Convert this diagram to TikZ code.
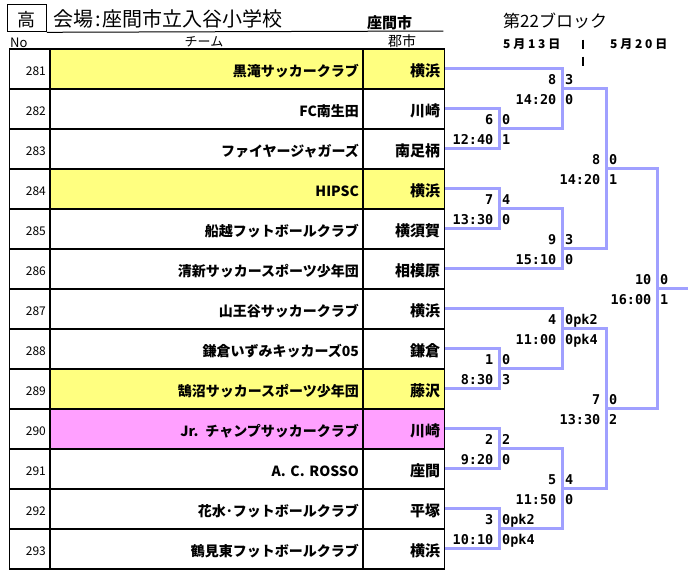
\documentclass[tikz,border=0pt]{standalone}
\usepackage{fontspec}
\setmainfont{Noto Sans CJK JP}
\newfontfamily\monofnt{DejaVu Sans Mono}
\definecolor{brcol}{RGB}{160,160,255}
\definecolor{yel}{RGB}{255,255,128}
\definecolor{pnk}{RGB}{255,160,255}
\newcommand{\gp}{\hspace{2.8pt}}
\begin{document}
\begin{tikzpicture}[x=1pt,y=-1pt,
  cell/.style={draw=black, line width=1.2pt, rectangle, minimum height=40pt,
    inner xsep=4pt, inner ysep=0pt, anchor=north west, align=right},
  nocell/.style={cell, text width=32.3pt, font=\fontsize{12}{12}\selectfont,
    text height=15.1pt, text depth=2pt},
  teamcell/.style={cell, text width=305pt, font=\bfseries\fontsize{14}{14}\selectfont,
    text height=16.6pt, text depth=2pt},
  citycell/.style={cell, text width=73.3pt, font=\bfseries\fontsize{15}{15}\selectfont,
    text height=17.4pt, text depth=2pt},
  bline/.style={draw=brcol, line width=3pt},
  lab/.style={inner sep=0pt, font=\monofnt\bfseries\fontsize{13.5}{13.5}\selectfont},
  hdr/.style={inner sep=0pt, anchor=base west}]
\useasboundingbox (0,0) rectangle (698,573);
\fill[white] (0,0) rectangle (698,573);

% header
\node[draw=black, line width=1.3pt, minimum width=39pt, minimum height=27pt,
  inner xsep=5pt, inner ysep=0pt, text width=18pt, align=right, anchor=north west,
  font=\fontsize{18}{18}\selectfont, text height=16pt, text depth=0pt] (kou) at (6.5,4) {高};
\coordinate (ulend) at (443.3,31);
\draw[line width=1pt] (kou.south east) -- (ulend);
\node[hdr, font=\fontsize{20}{20}\selectfont] (title) at (53,26.6) {会場\hspace{2pt}:\hspace{2pt}座間市立入谷小学校};
\node[hdr, font=\bfseries\fontsize{15}{15}\selectfont] (zama) at (367,28.2) {座間市};
\node[hdr, font=\fontsize{13}{13}\selectfont] (hno) at (10,47.3) {No};
\node[inner sep=0pt, anchor=base, font=\fontsize{13}{13}\selectfont] (hteam) at (204,46) {チーム};
\node[inner sep=0pt, anchor=base, font=\fontsize{14}{14}\selectfont] (hcity) at (402,46.5) {郡市};
\node[hdr, font=\fontsize{17}{17}\selectfont] (block) at (503,27) {第22ブロック};
\node[hdr, font=\bfseries\fontsize{12}{12}\selectfont] (d1) at (503,48.6) {5\gp 月\gp 1\gp 3\gp 日};
\node[hdr, font=\bfseries\fontsize{12}{12}\selectfont] (d2) at (610,48.6) {5\gp 月\gp 2\gp 0\gp 日};
\draw[line width=2.6pt] (583,39.5) -- (583,48.5);
\draw[line width=2.6pt] (583,56.5) -- (583,66);

% table
\foreach \i/\no/\team/\city/\fc in {
  1/281/黒滝サッカークラブ/横浜/yel,
  2/282/FC南生田/川崎/white,
  3/283/ファイヤージャガーズ/南足柄/white,
  4/284/HIPSC/横浜/yel,
  5/285/船越フットボールクラブ/横須賀/white,
  6/286/清新サッカースポーツ少年団/相模原/white,
  7/287/山王谷サッカークラブ/横浜/white,
  8/288/鎌倉いずみキッカーズ05/鎌倉/white,
  9/289/鵠沼サッカースポーツ少年団/藤沢/yel,
  10/290/Jr. チャンプサッカークラブ/川崎/pnk,
  11/291/A. C. ROSSO/座間/white,
  12/292/花水･フットボールクラブ/平塚/white,
  13/293/鶴見東フットボールクラブ/横浜/white}{
  \node[nocell, fill=white] (no\i) at (9,{48.3+40*(\i-1)}) {\no};
  \node[teamcell, fill=\fc] (team\i) at (49.3,{48.3+40*(\i-1)}) {\team};
  \node[citycell, fill=\fc] (city\i) at (362.3,{48.3+40*(\i-1)}) {\city};
}

% bracket points
\coordinate (m6) at (499,128.5);
\coordinate (m7) at (499,208.5);
\coordinate (m1) at (499,368.5);
\coordinate (m2) at (499,448.5);
\coordinate (m3) at (499,528.5);
\coordinate (ra) at (562,88.5);
\coordinate (rb) at (562,248.5);
\coordinate (rc) at (562,328.5);
\coordinate (rd) at (562,488.5);
\coordinate (sa) at (606,168.5);
\coordinate (sb) at (606,408.5);
\coordinate (fin) at (657,288.5);
\coordinate (champ) at (688,288.5);

\draw[bline] (city2.east) -| (m6);
\draw[bline] (city3.east) -| (m6);
\draw[bline] (city4.east) -| (m7);
\draw[bline] (city5.east) -| (m7);
\draw[bline] (city8.east) -| (m1);
\draw[bline] (city9.east) -| (m1);
\draw[bline] (city10.east) -| (m2);
\draw[bline] (city11.east) -| (m2);
\draw[bline] (city12.east) -| (m3);
\draw[bline] (city13.east) -| (m3);
\draw[bline] (city1.east) -| (ra);
\draw[bline] (m6) -| (ra);
\draw[bline] (m7) -| (rb);
\draw[bline] (city6.east) -| (rb);
\draw[bline] (city7.east) -| (rc);
\draw[bline] (m1) -| (rc);
\draw[bline] (m2) -| (rd);
\draw[bline] (m3) -| (rd);
\draw[bline] (ra) -| (sa);
\draw[bline] (rb) -| (sa);
\draw[bline] (rc) -| (sb);
\draw[bline] (rd) -| (sb);
\draw[bline] (sa) -| (fin);
\draw[bline] (sb) -| (fin);
\draw[bline] (fin) -- (champ);

% match labels
\foreach \n/\vx/\yo/\a/\b/\c/\d in {
  m6/499/128.5/6/0/12:40/1,
  m7/499/208.5/7/4/13:30/0,
  m1/499/368.5/1/0/8:30/3,
  m2/499/448.5/2/2/9:20/0,
  m3/499/528.5/3/0pk2/10:10/0pk4,
  ra/562/88.5/8/3/14:20/0,
  rb/562/248.5/9/3/15:10/0,
  rc/562/328.5/4/0pk2/11:00/0pk4,
  rd/562/488.5/5/4/11:50/0,
  sa/606/168.5/8/0/14:20/1,
  sb/606/408.5/7/0/13:30/2,
  fin/657/288.5/10/0/16:00/1}{
  \node[lab, anchor=base east] (\n-num) at ({\vx-5.5},{\yo-3.6}) {\a};
  \node[lab, anchor=base west] (\n-s1) at ({\vx+3},{\yo-3.6}) {\b};
  \node[lab, anchor=base east] (\n-time) at ({\vx-5.5},{\yo+16.4}) {\c};
  \node[lab, anchor=base west] (\n-s2) at ({\vx+3},{\yo+16.4}) {\d};
}
\end{tikzpicture}
\end{document}
